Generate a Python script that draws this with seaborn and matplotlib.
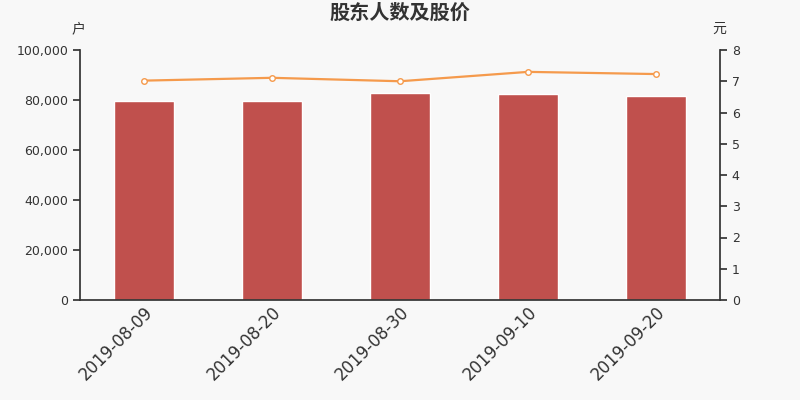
import matplotlib
matplotlib.use("Agg")
import matplotlib.pyplot as plt
from matplotlib.ticker import FuncFormatter
import pandas as pd
import seaborn as sns

dates = ["2019-08-09", "2019-08-20", "2019-08-30", "2019-09-10", "2019-09-20"]
holders = [79600, 79450, 82800, 82400, 81600]
prices = [7.02, 7.11, 7.00, 7.30, 7.23]

df = pd.DataFrame({"date": dates, "holders": holders, "price": prices})

sns.set_theme(style="white")
plt.rcParams["font.family"] = ["DejaVu Sans", "Noto Sans CJK SC"]

bg = "#f8f8f8"
fig = plt.figure(figsize=(8, 4), dpi=100, facecolor=bg)
ax = fig.add_axes([0.1, 0.25, 0.8, 0.625], facecolor=bg)

sns.barplot(data=df, x="date", y="holders", color="#c0504d", width=0.47,
            saturation=1, ax=ax)
ax.set_xlim(-0.5, len(dates) - 0.5)
ax.set_ylim(0, 100000)
ax.set_yticks(range(0, 100001, 20000))
ax.yaxis.set_major_formatter(FuncFormatter(lambda v, _: f"{int(v):,}"))
ax.set_xticks([i + 0.5 for i in range(len(dates) - 1)], minor=True)
ax.set_xticks(range(len(dates)))
ax.set_xticklabels(dates, rotation=45, ha="right", rotation_mode="anchor",
                   fontsize=12, color="#333333")
ax.tick_params(axis="x", which="major", length=0, pad=2)
ax.tick_params(axis="x", which="minor", length=5, color="#333333", direction="out")
ax.tick_params(axis="y", length=5, color="#333333", direction="out", left=True,
               labelsize=9, labelcolor="#333333")
ax.set_xlabel("")
ax.set_ylabel("")
for side in ["top", "right"]:
    ax.spines[side].set_visible(False)
for side in ["left", "bottom"]:
    ax.spines[side].set_color("#333333")

ax2 = ax.twinx()
sns.lineplot(x=list(range(len(dates))), y=prices, ax=ax2, color="#f59a4c",
             linewidth=1.6, marker="o", markersize=4, markerfacecolor="white",
             markeredgecolor="#f59a4c", markeredgewidth=1)
ax2.set_ylim(0, 8)
ax2.set_yticks(range(0, 9))
ax2.tick_params(axis="y", length=5, color="#333333", direction="out", right=True,
                labelsize=9, labelcolor="#333333")
for side in ["top", "left", "bottom"]:
    ax2.spines[side].set_visible(False)
ax2.spines["right"].set_color("#333333")
ax2.set_ylabel("")

fig.text(0.5, 0.967, "股东人数及股价", ha="center", va="center",
         fontsize=14.5, fontweight="bold", color="#333333")
fig.text(0.098, 0.928, "户", ha="center", va="center", fontsize=10, color="#333333")
fig.text(0.899, 0.928, "元", ha="center", va="center", fontsize=10, color="#333333")

fig.savefig("out.png", dpi=100, facecolor=bg)
